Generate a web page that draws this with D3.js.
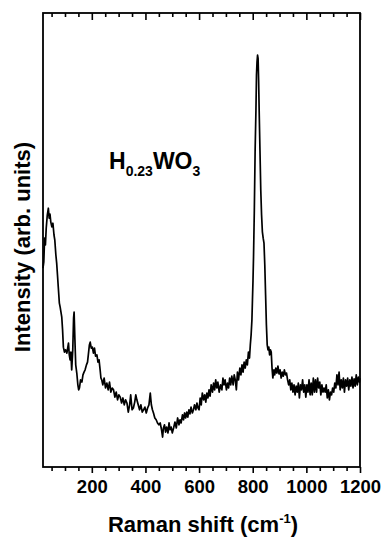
<!DOCTYPE html>
<html>
<head>
<meta charset="utf-8">
<script src="https://cdn.jsdelivr.net/npm/d3@7"></script>
<style>
  body { margin: 0; background: #fff; }
  text { font-family: "Liberation Sans", Arial, sans-serif; font-weight: bold; fill: #000; }
</style>
</head>
<body>
<div id="chart"></div>
<script>
// Raman spectrum data
var shift = [18,21,24,27,30,34,38,41,44,47,51,55,59,62,66,69,72,75,79,82,85,88,91,94,98,102,107,110,113,116,119,122,125,129,132,134,137,140,144,148,151,154,158,163,167,171,175,180,184,187,191,194,198,202,206,210,214,219,223,227,231,234,237,241,246,251,256,261,266,271,276,281,286,291,296,301,306,311,316,321,326,331,336,341,345,350,355,360,364,368,373,378,383,388,393,398,403,408,413,418,422,426,430,435,440,445,450,455,460,464,467,471,475,479,484,488,492,496,500,505,510,515,520,525,529,533,538,542,546,550,554,558,562,566,570,575,579,583,588,592,596,600,604,608,612,617,621,625,629,633,637,641,645,650,654,658,662,666,670,675,680,685,689,693,697,702,706,710,714,718,722,727,731,735,739,743,747,752,756,760,764,768,772,776,780,784,788,791,794,797,799,801,803,806,809,812,814,816,818,820,822,824,827,830,833,836,839,842,845,848,851,854,857,860,863,866,869,872,875,879,882,886,890,894,898,902,906,910,914,918,922,926,930,934,938,942,946,950,954,958,962,966,970,974,978,982,986,990,994,998,1002,1006,1010,1014,1018,1022,1026,1030,1034,1038,1042,1046,1050,1054,1058,1062,1066,1070,1074,1078,1082,1086,1090,1094,1098,1102,1106,1110,1114,1118,1122,1126,1130,1134,1138,1142,1146,1150,1154,1158,1162,1166,1170,1174,1178,1182,1186,1190,1194,1198,1200];
var intensity = [438,452,504,489,526,555,570,548,557,540,529,537,511,500,467,449,423,396,361,352,341,330,302,264,253,258,251,262,273,247,236,253,214,258,328,341,280,225,207,181,170,174,192,187,203,209,214,225,231,247,269,275,262,264,251,262,244,247,231,236,214,196,192,181,196,174,185,170,187,165,174,170,154,165,148,159,154,141,152,137,148,141,121,137,159,126,130,143,159,148,137,126,137,121,126,132,119,130,137,163,137,126,119,108,104,97,93,97,82,66,86,93,77,88,75,97,82,88,75,86,99,86,108,93,104,97,115,104,119,108,121,110,126,117,132,119,126,137,126,141,130,126,152,137,163,148,159,143,163,152,170,156,181,165,185,170,192,174,187,165,181,170,196,181,192,170,185,174,196,181,200,181,203,192,170,209,192,218,203,225,209,231,218,236,225,253,240,269,291,324,368,410,463,566,698,786,863,892,907,900,852,786,698,610,555,518,504,493,445,379,313,269,258,264,247,258,253,218,196,214,203,218,207,222,205,214,196,209,200,214,203,207,192,181,192,170,185,165,181,159,178,165,185,152,181,170,192,165,181,154,181,165,192,159,185,159,196,165,192,165,196,174,187,159,181,165,174,165,181,152,170,148,165,159,174,165,185,174,203,181,209,170,192,174,196,165,192,178,196,170,192,178,198,174,194,178,203,181,198,187,196];

var majorTicks = [200, 400, 600, 800, 1000, 1200];
var minorTicks = d3.range(50, 1200, 50).filter(function(t) { return t % 200 !== 0; });

var spectrum = shift.map(function(s, i) { return {x: s, y: intensity[i]}; });

var svgWidth = 387;
var svgHeight = 537;
var margin = {top: 13, right: 27, bottom: 70, left: 43};
var width = svgWidth - margin.left - margin.right;
var height = svgHeight - margin.top - margin.bottom;

var svg = d3.select("#chart")
  .append("svg")
  .attr("width", svgWidth)
  .attr("height", svgHeight);

var chartGroup = svg.append("g")
  .attr("transform", `translate(${margin.left}, ${margin.top})`);

var xScale = d3.scaleLinear().domain([18, 1200]).range([0, width]);
var yScale = d3.scaleLinear().domain([0, 1000]).range([height, 0]);

// bottom axis: major with labels, minor without
chartGroup.append("g")
  .attr("transform", `translate(0, ${height})`)
  .call(d3.axisBottom(xScale).tickValues(minorTicks).tickSize(4).tickFormat(""))
  .call(g => g.select(".domain").remove());

var bottomAxis = chartGroup.append("g")
  .attr("transform", `translate(0, ${height})`)
  .call(d3.axisBottom(xScale).tickValues(majorTicks).tickSize(6).tickPadding(7).tickFormat(d3.format("d")));
bottomAxis.select(".domain").remove();
bottomAxis.selectAll("text").style("font-size", "18.5px").attr("fill", "#000");

// top axis, ticks pointing inward
chartGroup.append("g")
  .call(d3.axisBottom(xScale).tickValues(minorTicks).tickSize(4).tickFormat(""))
  .call(g => g.select(".domain").remove());
chartGroup.append("g")
  .call(d3.axisBottom(xScale).tickValues(majorTicks).tickSize(7).tickFormat(""))
  .call(g => g.select(".domain").remove());

chartGroup.selectAll(".tick line").attr("stroke", "#000").attr("stroke-width", 1.6);

// frame
chartGroup.append("rect")
  .attr("width", width)
  .attr("height", height)
  .attr("fill", "none")
  .attr("stroke", "#000")
  .attr("stroke-width", 1.8);

// spectrum
var line = d3.line()
  .x(d => xScale(d.x))
  .y(d => yScale(d.y));

chartGroup.append("path")
  .datum(spectrum)
  .attr("fill", "none")
  .attr("stroke", "#000")
  .attr("stroke-width", 1.7)
  .attr("stroke-linejoin", "round")
  .attr("d", line);

// sample label
var label = chartGroup.append("text")
  .attr("x", 109 - margin.left)
  .attr("y", 169 - margin.top)
  .style("font-size", "23px");
label.append("tspan").text("H");
label.append("tspan").attr("dy", 7).style("font-size", "14px").text("0.23");
label.append("tspan").attr("dy", -7).text("WO");
label.append("tspan").attr("dy", 7).style("font-size", "14px").text("3");

// axis labels
svg.append("text")
  .attr("transform", "translate(30, 247) rotate(-90)")
  .attr("text-anchor", "middle")
  .style("font-size", "22px")
  .text("Intensity (arb. units)");

var xLabel = svg.append("text")
  .attr("x", 203)
  .attr("y", 532)
  .attr("text-anchor", "middle")
  .style("font-size", "22px");
xLabel.append("tspan").text("Raman shift (cm");
xLabel.append("tspan").attr("dy", -9).style("font-size", "13px").text("-1");
xLabel.append("tspan").attr("dy", 9).text(")");
</script>
</body>
</html>
